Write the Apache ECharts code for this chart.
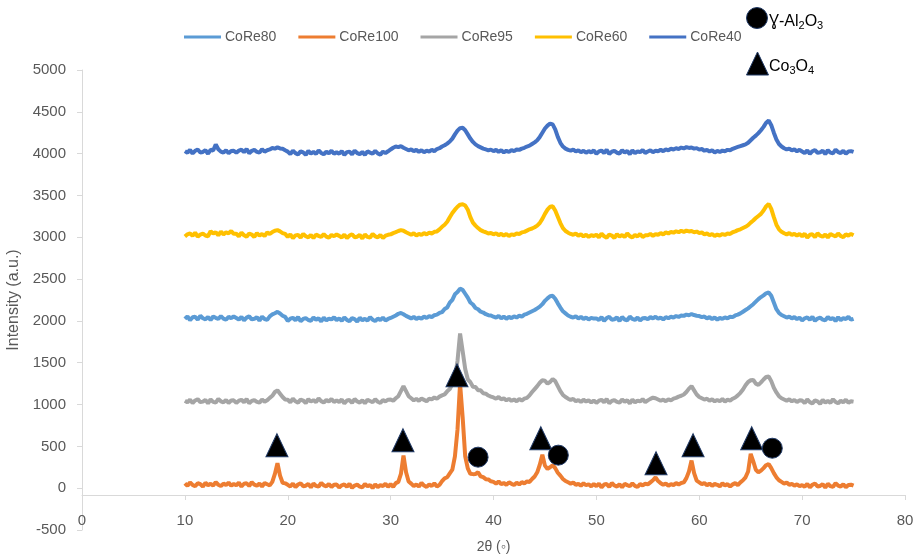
<!DOCTYPE html>
<html>
<head>
<meta charset="utf-8">
<script src="https://cdn.jsdelivr.net/npm/echarts@6/dist/echarts.min.js"></script>
<style>
  html, body { margin: 0; padding: 0; background: #fff; }
  #chart { width: 917px; height: 555px; }
</style>
</head>
<body>
<div id="chart"></div>
<script>
// 2-theta sampling: 10..75 deg, one value every 0.25 deg (261 points per pattern)
var thetaStart = 10, thetaStep = 0.25;

var core100 = [
  57,27,70,39,23,60,48,18,65,35,53,30,73,41,25,55,37,67,31,50,
  35,65,20,53,59,26,71,42,29,56,21,62,47,33,75,170,300,150,65,58,
  40,21,54,12,44,59,24,30,51,9,56,27,18,62,34,22,50,15,42,45,
  8,34,45,16,53,4,31,42,19,10,50,22,39,1,47,13,36,25,52,17,
  47,17,60,75,170,390,190,80,55,25,43,20,63,31,15,45,27,57,21,40,
  84,118,131,178,222,380,700,1250,850,380,236,172,168,170,190,142,131,108,104,82,
  75,55,80,48,62,40,70,52,38,66,45,72,58,80,75,110,140,190,280,400,
  270,230,250,275,240,185,150,110,85,70,55,68,40,52,30,58,35,47,22,50,
  25,55,10,43,49,16,61,32,19,46,11,52,37,23,58,28,14,48,33,53,
  45,70,95,130,85,60,42,55,30,48,38,60,45,62,70,120,200,330,180,90,
  70,48,62,35,55,28,50,40,22,57,33,48,20,45,60,38,70,95,130,200,
  410,320,220,190,210,240,275,290,240,180,130,95,75,55,68,40,52,30,46,25,
  37,18,51,9,41,56,21,27,48,6,53,24,15,59,31,19,47,12,39,42,
  30
];

var core95 = [
  1045,1026,1059,1017,1049,1064,1029,1035,1056,1014,1061,1032,1023,1067,1039,1027,1055,1020,1047,1050,
  1020,1046,1057,1028,1065,1016,1043,1054,1031,1022,1062,1034,1051,1080,1105,1150,1170,1130,1090,1060,
  1057,1027,1070,1039,1023,1060,1048,1018,1065,1035,1053,1030,1073,1041,1025,1055,1037,1067,1031,1050,
  1030,1060,1015,1048,1054,1021,1066,1037,1024,1051,1016,1057,1042,1028,1063,1033,1019,1053,1038,1058,
  1060,1045,1075,1100,1160,1220,1160,1100,1075,1050,1068,1045,1072,1056,1040,1070,1062,1085,1070,1095,
  1110,1122,1158,1185,1248,1325,1520,1850,1640,1425,1302,1268,1214,1210,1172,1170,1135,1130,1108,1095,
  1085,1070,1090,1062,1075,1050,1068,1045,1060,1040,1065,1048,1070,1080,1110,1150,1185,1220,1260,1290,
  1285,1250,1270,1305,1280,1220,1160,1115,1090,1070,1055,1068,1040,1055,1030,1058,1036,1050,1025,1048,
  1020,1046,1057,1028,1065,1016,1043,1054,1031,1022,1062,1034,1051,1013,1059,1025,1048,1037,1064,1029,
  1050,1068,1082,1075,1060,1045,1058,1040,1062,1050,1070,1080,1095,1105,1120,1150,1190,1220,1170,1120,
  1090,1075,1060,1070,1045,1062,1038,1055,1040,1066,1035,1058,1048,1070,1085,1110,1140,1180,1230,1270,
  1290,1295,1250,1235,1265,1300,1330,1335,1280,1200,1145,1100,1075,1060,1045,1062,1038,1055,1030,1050,
  1047,1017,1060,1029,1013,1050,1038,1008,1055,1025,1043,1020,1063,1031,1015,1045,1027,1057,1021,1040,
  1035
];

var core80 = [
  2025,2055,2010,2043,2049,2016,2061,2032,2019,2046,2011,2052,2037,2023,2058,2028,2014,2048,2033,2053,
  2035,2016,2049,2007,2039,2054,2019,2025,2046,2004,2051,2022,2013,2055,2078,2092,2108,2088,2062,2048,
  2000,2026,2037,2008,2045,1996,2023,2034,2011,2002,2042,2014,2031,1993,2039,2005,2028,2017,2044,2009,
  2030,2000,2043,2012,1996,2033,2021,1991,2038,2008,2026,2003,2046,2014,1998,2028,2010,2040,2004,2023,
  2035,2050,2065,2085,2095,2080,2060,2045,2030,2048,2022,2040,2028,2052,2035,2058,2045,2068,2075,2095,
  2105,2142,2160,2218,2252,2318,2345,2385,2372,2325,2278,2220,2196,2155,2140,2110,2100,2080,2068,2065,
  2050,2038,2060,2030,2052,2025,2048,2033,2055,2040,2062,2050,2075,2085,2100,2115,2130,2150,2170,2200,
  2240,2270,2295,2300,2265,2210,2160,2115,2090,2065,2050,2040,2055,2030,2048,2022,2040,2018,2036,2028,
  2030,2011,2044,2002,2034,2049,2014,2020,2041,1999,2046,2017,2008,2052,2024,2012,2040,2005,2032,2035,
  2020,2045,2030,2050,2025,2040,2018,2045,2032,2050,2040,2058,2048,2065,2060,2075,2068,2082,2070,2062,
  2058,2045,2052,2030,2045,2022,2040,2015,2035,2025,2042,2030,2050,2045,2065,2075,2090,2110,2130,2150,
  2175,2200,2230,2260,2285,2305,2330,2340,2300,2220,2140,2095,2070,2055,2040,2052,2030,2045,2022,2038,
  2005,2031,2042,2013,2050,2001,2028,2039,2016,2007,2047,2019,2036,1998,2044,2010,2033,2022,2049,2014,
  2025
];

var core60 = [
  3010,3036,3047,3018,3055,3006,3033,3044,3021,3012,3072,3044,3061,3023,3069,3035,3058,3047,3074,3041,
  3042,3012,3055,3024,3008,3045,3033,3003,3050,3020,3038,3015,3058,3040,3062,3078,3085,3070,3050,3040,
  3005,3035,2990,3023,3029,2996,3041,3012,2999,3026,2991,3032,3017,3003,3038,3008,2994,3028,3013,3033,
  3017,2998,3031,2989,3021,3036,3001,3007,3028,2986,3033,3004,2995,3039,3011,2999,3027,2992,3019,3030,
  3035,3050,3062,3075,3085,3078,3060,3045,3030,3048,3022,3040,3028,3050,3035,3055,3045,3065,3070,3095,
  3125,3150,3185,3240,3290,3330,3365,3390,3395,3380,3330,3240,3175,3140,3110,3085,3070,3060,3045,3052,
  3035,3048,3025,3042,3020,3038,3015,3035,3028,3045,3040,3058,3065,3080,3095,3105,3120,3140,3170,3220,
  3280,3330,3365,3370,3320,3245,3170,3110,3075,3055,3040,3030,3045,3018,3035,3010,3030,3005,3025,3015,
  3030,3000,3043,3012,2996,3033,3021,2991,3038,3008,3026,3003,3046,3014,2998,3028,3010,3040,3004,3023,
  3025,3040,3018,3038,3030,3050,3035,3058,3045,3065,3055,3072,3060,3078,3065,3080,3070,3075,3060,3068,
  3050,3058,3035,3045,3025,3040,3015,3032,3020,3038,3028,3045,3040,3060,3070,3085,3095,3110,3125,3145,
  3175,3200,3230,3255,3280,3320,3370,3400,3340,3240,3150,3095,3065,3048,3035,3050,3028,3042,3020,3038,
  3012,3042,2997,3030,3036,3003,3048,3019,3006,3033,2998,3039,3024,3010,3045,3015,3001,3035,3020,3040,
  3025
];

var core40 = [
  4030,4011,4044,4002,4034,4049,4014,4020,4041,3999,4046,4037,4110,4052,4024,4012,4040,4005,4032,4035,
  4010,4036,4047,4018,4055,4006,4033,4044,4021,4012,4052,4024,4041,4050,4068,4060,4075,4062,4058,4040,
  4024,3994,4037,4006,3990,4027,4015,3985,4032,4002,4020,3997,4040,4008,3992,4022,4004,4034,3998,4017,
  4000,4030,3985,4018,4024,3991,4036,4007,3994,4021,3986,4027,4012,3998,4033,4003,3989,4023,4008,4028,
  4050,4070,4085,4078,4090,4070,4055,4040,4050,4030,4045,4022,4040,4018,4035,4025,4045,4030,4055,4065,
  4085,4100,4120,4145,4180,4230,4275,4305,4310,4280,4230,4180,4140,4110,4090,4075,4060,4050,4040,4048,
  4030,4045,4022,4040,4015,4035,4020,4042,4030,4050,4045,4060,4070,4085,4095,4115,4135,4160,4200,4250,
  4300,4335,4360,4350,4290,4200,4130,4085,4060,4045,4035,4050,4025,4040,4018,4035,4010,4030,4015,4038,
  4000,4026,4037,4008,4045,3996,4023,4034,4011,4002,4042,4014,4031,3993,4039,4005,4028,4017,4044,4009,
  4025,4040,4018,4035,4028,4045,4030,4050,4040,4058,4050,4065,4055,4072,4062,4078,4068,4074,4060,4066,
  4048,4055,4035,4045,4025,4040,4015,4032,4020,4036,4028,4045,4040,4058,4070,4080,4090,4100,4110,4130,
  4160,4190,4215,4245,4280,4320,4370,4395,4340,4250,4170,4115,4085,4065,4050,4060,4038,4050,4028,4045,
  4025,4006,4039,3997,4029,4044,4009,4015,4036,3994,4041,4012,4003,4047,4019,4007,4035,4000,4027,4030,
  4020
];

// peak labels placed on the CoRe100 pattern: [2theta, intensity]
var co3o4Marks = [[18.95, 514], [31.2, 574], [36.45, 1350], [44.6, 598], [55.8, 299], [59.4, 514], [65.1, 598]];
var aluminaMarks = [[38.5, 371], [46.3, 395], [67.1, 478]];

var legendNames = ['CoRe80', 'CoRe100', 'CoRe95', 'CoRe60', 'CoRe40'];

function pairUp(values) {
  var out = [];
  for (var i = 0; i < values.length; i++) {
    out.push([thetaStart + i * thetaStep, values[i]]);
  }
  return out;
}

function lineSeries(name, values, color) {
  return {
    name: name,
    type: 'line',
    data: pairUp(values),
    showSymbol: false,
    symbol: 'none',
    lineStyle: { color: color, width: 4 },
    itemStyle: { color: color }
  };
}

var labelFont = 'Liberation Sans';
var grey = '#595959';
var axisGrey = '#d9d9d9';

var chart = echarts.init(document.getElementById('chart'));
chart.setOption({
  animation: false,
  textStyle: { fontFamily: labelFont },
  grid: { left: 82, right: 12, top: 70, bottom: 25, containLabel: false, outerBoundsMode: 'none' },
  legend: {
    data: legendNames,
    left: 179,
    top: 25,
    icon: 'rect',
    itemWidth: 37,
    itemHeight: 3,
    itemGap: 22,
    textStyle: { color: grey, fontSize: 14, fontFamily: labelFont, padding: [0, 0, 0, -1] }
  },
  xAxis: {
    type: 'value',
    min: 0,
    max: 80,
    interval: 10,
    offset: -35,
    name: '2θ (◦)',
    nameLocation: 'middle',
    nameGap: 45,
    nameTextStyle: { color: grey, fontSize: 14 },
    axisLine: { onZero: false, lineStyle: { color: axisGrey, width: 1 } },
    axisTick: { show: true, length: 5, lineStyle: { color: axisGrey } },
    axisLabel: { color: grey, fontSize: 15, margin: 18 },
    splitLine: { show: false }
  },
  yAxis: {
    type: 'value',
    min: -500,
    max: 5000,
    interval: 500,
    name: 'Intensity (a.u.)',
    nameLocation: 'middle',
    nameGap: 50,
    nameTextStyle: { color: grey, fontSize: 16 },
    axisLine: { show: true, lineStyle: { color: axisGrey, width: 1 } },
    axisTick: { show: true, length: 5, lineStyle: { color: axisGrey } },
    axisLabel: {
      color: grey,
      fontSize: 15,
      margin: 16,
      formatter: function (v) { return String(v); }
    },
    splitLine: { show: false }
  },
  series: [
    lineSeries('CoRe80', core80, '#5B9BD5'),
    lineSeries('CoRe100', core100, '#ED7D31'),
    lineSeries('CoRe95', core95, '#A5A5A5'),
    lineSeries('CoRe60', core60, '#FFC000'),
    lineSeries('CoRe40', core40, '#4472C4'),
    {
      name: 'Co3O4',
      type: 'scatter',
      data: co3o4Marks,
      symbol: 'triangle',
      symbolSize: [22, 23],
      itemStyle: { color: '#000', borderColor: '#1F3864', borderWidth: 1, opacity: 1 },
      z: 5
    },
    {
      name: 'Al2O3',
      type: 'scatter',
      data: aluminaMarks,
      symbol: 'circle',
      symbolSize: 20,
      itemStyle: { color: '#000', borderColor: '#1F3864', borderWidth: 1, opacity: 1 },
      z: 5
    }
  ],
  graphic: [
    {
      type: 'circle',
      shape: { cx: 757, cy: 18, r: 10.5 },
      style: { fill: '#000', stroke: '#1F3864', lineWidth: 1 }
    },
    {
      type: 'text',
      x: 769,
      y: 22,
      style: {
        text: '{a|Ɣ-Al}{s|2}{a|O}{s|3}',
        verticalAlign: 'middle',
        rich: {
          a: { fontSize: 16, fill: '#000', fontFamily: labelFont, lineHeight: 22 },
          s: { fontSize: 11, fill: '#000', fontFamily: labelFont, lineHeight: 22, padding: [8, 0, 0, 0] }
        }
      }
    },
    {
      type: 'polygon',
      shape: { points: [[746.5, 75], [757.5, 52], [768.5, 75]] },
      style: { fill: '#000', stroke: '#1F3864', lineWidth: 1 }
    },
    {
      type: 'text',
      x: 769,
      y: 67,
      style: {
        text: '{a|Co}{s|3}{a|O}{s|4}',
        verticalAlign: 'middle',
        rich: {
          a: { fontSize: 16, fill: '#000', fontFamily: labelFont, lineHeight: 22 },
          s: { fontSize: 11, fill: '#000', fontFamily: labelFont, lineHeight: 22, padding: [8, 0, 0, 0] }
        }
      }
    }
  ]
});
</script>
</body>
</html>
